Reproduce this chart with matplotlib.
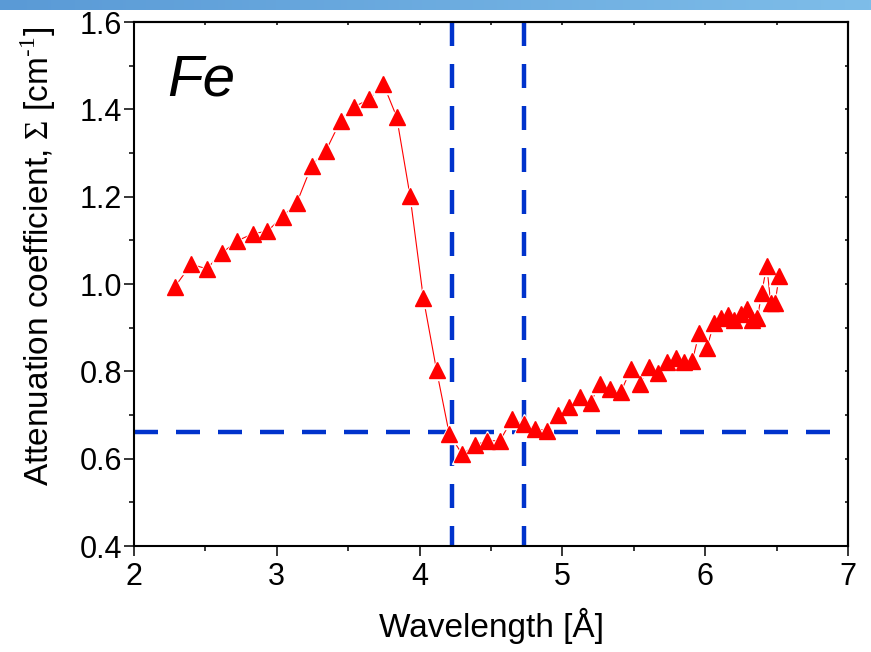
import matplotlib.pyplot as plt
import numpy as np
from matplotlib.colors import LinearSegmentedColormap
from matplotlib.ticker import MultipleLocator

plt.rcParams['font.family'] = ['Liberation Sans', 'DejaVu Sans']
plt.rcParams['mathtext.fontset'] = 'custom'
plt.rcParams['mathtext.rm'] = 'Liberation Serif'

# measured attenuation of Fe vs neutron wavelength
wavelength = [2.287, 2.400, 2.509, 2.616, 2.724, 2.831, 2.934, 3.041, 3.139, 3.244,
              3.342, 3.447, 3.543, 3.646, 3.746, 3.839, 3.933, 4.026, 4.119, 4.208,
              4.299, 4.388, 4.474, 4.563, 4.647, 4.731, 4.810, 4.890, 4.971, 5.048,
              5.123, 5.198, 5.262, 5.335, 5.410, 5.479, 5.545, 5.606, 5.671, 5.734,
              5.794, 5.852, 5.909, 5.958, 6.012, 6.061, 6.109, 6.157, 6.202, 6.249,
              6.291, 6.326, 6.366, 6.396, 6.431, 6.459, 6.489, 6.518]
sigma = [0.994, 1.045, 1.035, 1.071, 1.099, 1.115, 1.121, 1.154, 1.185, 1.271,
         1.304, 1.374, 1.406, 1.423, 1.458, 1.383, 1.202, 0.968, 0.802, 0.656,
         0.610, 0.631, 0.641, 0.641, 0.690, 0.679, 0.669, 0.664, 0.701, 0.718,
         0.741, 0.728, 0.772, 0.760, 0.753, 0.805, 0.772, 0.811, 0.797, 0.821,
         0.831, 0.822, 0.823, 0.888, 0.854, 0.910, 0.922, 0.928, 0.917, 0.932,
         0.943, 0.917, 0.922, 0.980, 1.042, 0.956, 0.956, 1.019]

edge_wavelengths = [4.227, 4.731]
sigma_level = 0.66

W, H = 871, 652
fig = plt.figure(figsize=(W / 100, H / 100), dpi=100)

# header strip of the slide
band = fig.add_axes([0, 1 - 10 / H, 1, 10 / H])
band.imshow(np.linspace(0, 1, 256).reshape(1, -1), aspect='auto',
            cmap=LinearSegmentedColormap.from_list('band', ['#5a9ad6', '#7ebde9']))
band.axis('off')

x0, y0, w, h = 134, 22, 714, 524
ax = fig.add_axes([x0 / W, 1 - (y0 + h) / H, w / W, h / H])

blue = '#0033cc'
dash = (0, (5.4, 4.05))
ax.plot([2, 7], [sigma_level, sigma_level], color=blue, lw=3.2, ls=dash, zorder=1.5)
for xe in edge_wavelengths:
  ax.plot([xe, xe], [1.6, 0.4], color=blue, lw=3.2, ls=dash, zorder=1.5)

ax.plot(wavelength, sigma, color='red', lw=0.8, zorder=2)
ax.plot(wavelength, sigma, ls='none', marker='^', ms=14, color='white', zorder=3)
ax.plot(wavelength, sigma, ls='none', marker='^', ms=11, color='red', mec='red', zorder=4)

ax.set_xlim(2, 7)
ax.set_ylim(0.4, 1.6)
ax.xaxis.set_major_locator(MultipleLocator(1))
ax.xaxis.set_minor_locator(MultipleLocator(0.5))
ax.yaxis.set_major_locator(MultipleLocator(0.2))
ax.yaxis.set_minor_locator(MultipleLocator(0.1))
ax.yaxis.set_major_formatter(lambda v, p: f'{v:.1f}')

for s in ax.spines.values():
  s.set_linewidth(1.5)
ax.tick_params(which='major', direction='out', length=7.5, width=1.1, labelsize=22, pad=1)
ax.tick_params(which='minor', direction='out', length=3.5, width=1.1)
ax.tick_params(axis='x', which='major', pad=4)

# small inner ticks on the opposite axes
top = ax.secondary_xaxis('top')
top.xaxis.set_major_locator(MultipleLocator(0.5))
top.tick_params(direction='in', length=2, width=1.1, labeltop=False)
right = ax.secondary_yaxis('right')
right.yaxis.set_major_locator(MultipleLocator(0.1))
right.tick_params(direction='in', length=2, width=1.1, labelright=False)
for sec in (top, right):
  for s in sec.spines.values():
    s.set_linewidth(1.5)

ax.text((167 - x0) / w, 1 - (95 - y0) / h, 'Fe', transform=ax.transAxes,
        fontsize=42, style='italic', ha='left', va='baseline')

fig.text(38 / W, 1 - 256 / H,
         'Attenuation coefficient, $\\mathrm{\\Sigma}$ [cm$^{\\mathregular{\u2010}1}$]',
         rotation=90, fontsize=24, ha='center', va='center')
fig.text(491 / W, 1 - 626 / H, 'Wavelength [\u00c5]', fontsize=24, ha='center', va='center')

fig.savefig('out.png', dpi=100)
